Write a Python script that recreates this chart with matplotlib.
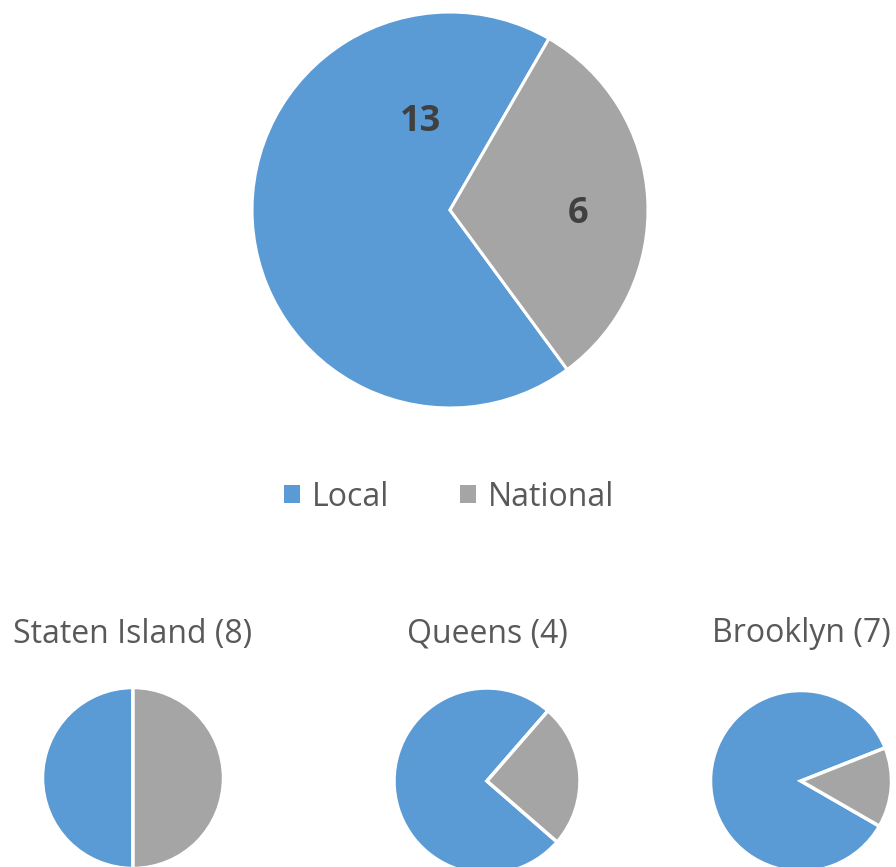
import matplotlib
matplotlib.use("Agg")
import matplotlib.pyplot as plt
from matplotlib.patches import Patch

plt.rcParams['font.family'] = ['Open Sans', 'DejaVu Sans']

categories = ['Local', 'National']
colors = ['#5B9BD5', '#A5A5A5']

total_values = [13, 6]

boroughs = ['Staten Island', 'Queens', 'Brooklyn']
borough_values = [[4, 4], [3, 1], [6, 1]]
borough_totals = [8, 4, 7]

W, H = 896, 867
fig = plt.figure(figsize=(W / 100, H / 100), dpi=100)


def pie_axes(cx, cy, r):
    # cx, cy, r in pixels from top-left
    ax = fig.add_axes([(cx - r) / W, (H - cy - r) / H, 2 * r / W, 2 * r / H])
    return ax


def finish(ax):
    ax.set_xlim(-1, 1)
    ax.set_ylim(-1, 1)
    ax.set_aspect('equal')
    ax.axis('off')


def start_for(vals, national_start_cw):
    # national wedge begins at national_start_cw degrees clockwise from 12 o'clock
    local_span = 360 * vals[0] / sum(vals)
    return 90 - national_start_cw + local_span


# big pie
ax = pie_axes(450, 210, 198)
ax.pie(total_values, colors=colors, startangle=start_for(total_values, 30),
       counterclock=False, radius=1,
       wedgeprops=dict(edgecolor='white', linewidth=2.2))
finish(ax)
ax.text(-0.15, 0.445, str(total_values[0]), ha='center', va='center',
        fontsize=26, fontweight='bold', color='#404040')
ax.text(0.645, -0.02, str(total_values[1]), ha='center', va='center',
        fontsize=26, fontweight='bold', color='#404040')

# legend
handles = [Patch(facecolor=c, edgecolor='none') for c in colors]
fig.legend(handles, categories, loc='center', bbox_to_anchor=(449 / W, 1 - 497 / H),
           ncol=2, frameon=False, fontsize=23, labelcolor='#595959',
           handlelength=0.5, handleheight=0.5, handletextpad=0.38,
           columnspacing=2.2)

# small pies
centers = [(133, 778, 90.5), (487, 781, 93), (801, 781, 90.5)]
nat_starts = [0, 41, 68.5]
for name, vals, tot, (cx, cy, r), ns in zip(boroughs, borough_values,
                                            borough_totals, centers, nat_starts):
    a = pie_axes(cx, cy, r)
    a.pie(vals, colors=colors, startangle=start_for(vals, ns),
          counterclock=False, radius=1,
          wedgeprops=dict(edgecolor='white', linewidth=2.5))
    finish(a)
    fig.text(cx / W, 1 - 634 / H, f'{name} ({tot})', ha='center', va='center',
             fontsize=23, color='#595959')

fig.savefig('out.png', dpi=100, facecolor='white')
